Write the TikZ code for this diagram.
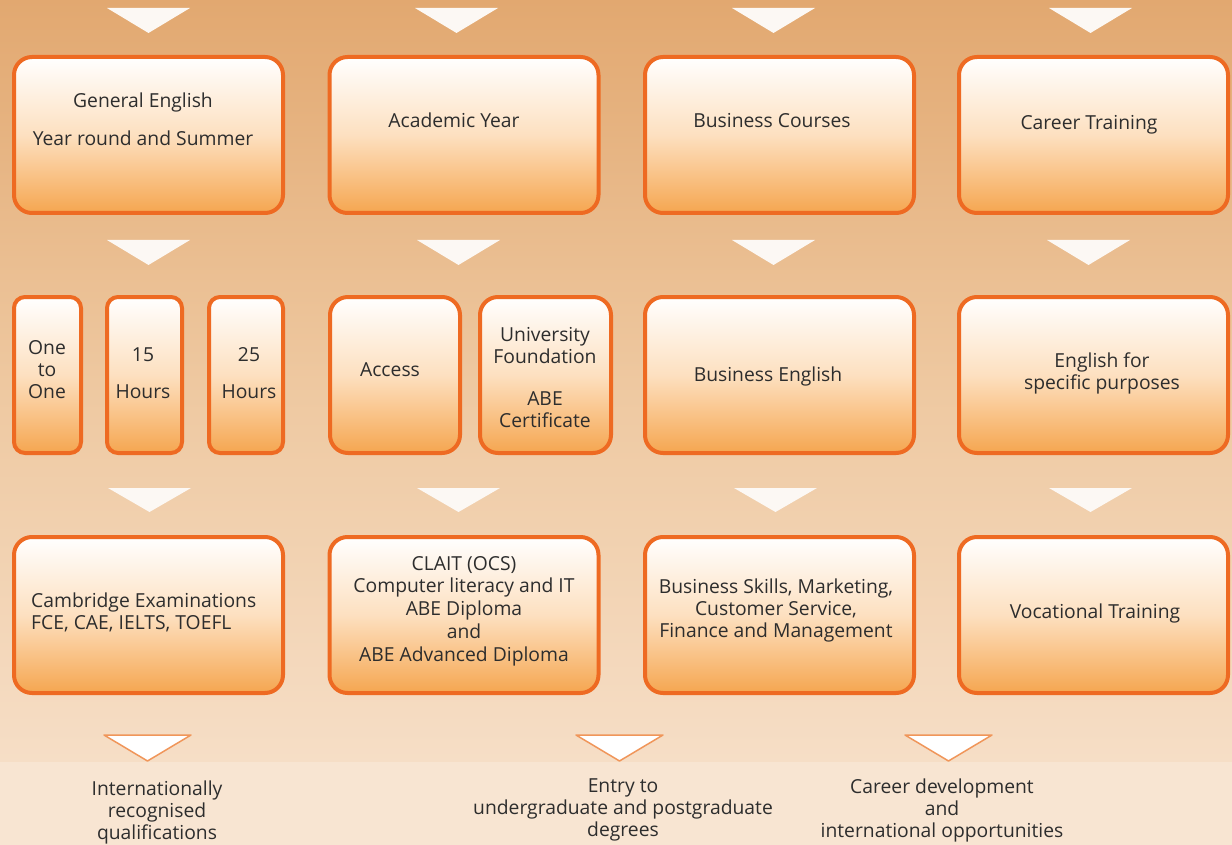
\documentclass[tikz,border=0pt]{standalone}
\usepackage{fontspec}
\setmainfont{Open Sans}
\definecolor{bgtop}{RGB}{226,168,112}
\definecolor{bgmid}{RGB}{238,200,160}
\definecolor{bgbot}{RGB}{246,222,198}
\definecolor{bglow}{RGB}{248,229,210}
\definecolor{boxedge}{RGB}{238,106,34}
\definecolor{boxmid}{RGB}{253,224,192}
\definecolor{boxbot}{RGB}{245,166,80}
\definecolor{inktext}{RGB}{45,45,45}
\definecolor{tripale}{RGB}{252,248,244}
\definecolor{triedge}{RGB}{240,150,90}
\begin{document}
\begin{tikzpicture}[x=1pt,y=-1pt,
  box/.style={draw=boxedge,line width=4pt,rounded corners=18pt,
    top color=white,bottom color=boxbot,middle color=boxmid,inner sep=0pt},
  slimbox/.style={box,rounded corners=11pt,minimum height=156pt},
  bigbox/.style={box,minimum width=269pt,minimum height=156pt},
  txt/.style={text=inktext,font=\fontsize{19.3}{22}\selectfont,align=center,inner sep=0pt},
  tri/.style={fill=tripale,draw=none},
  lowtri/.style={fill=white,draw=triedge,line width=1.5pt,line join=round}]
  % background
  \fill[top color=bgtop,bottom color=bgbot,middle color=bgmid] (0,0) rectangle (1232,762);
  \fill[bglow] (0,762) rectangle (1232,845);
  \useasboundingbox (0,0) rectangle (1232,845);
  % top triangles
  \fill[tri] (107,8) -- (190,8) -- (148.5,33) -- cycle;
  \fill[tri] (415,8) -- (498,8) -- (456.5,33) -- cycle;
  \fill[tri] (732,8) -- (815,8) -- (773.5,33) -- cycle;
  \fill[tri] (1049,8) -- (1132,8) -- (1090.5,33) -- cycle;
  % first row
  \node[bigbox] (genenglish) at (148.5,135) {};
  \node[bigbox] (acadyear) at (464,135) {};
  \node[bigbox] (buscourses) at (779.5,135) {};
  \node[bigbox] (careertrain) at (1093.5,135) {};
  \node[txt] (genenglishtxt) at (143,119) {General English\\[16pt]Year round and Summer};
  \node[txt] (acadyeartxt) at (454,120) {Academic Year};
  \node[txt] (buscoursestxt) at (772,121) {Business Courses};
  \node[txt] (careertraintxt) at (1089,125) {Career Training};
  \fill[tri] (107,240) -- (190,240) -- (148.5,265) -- cycle;
  \fill[tri] (417,240) -- (500,240) -- (458.5,265) -- cycle;
  \fill[tri] (732,240) -- (815,240) -- (773.5,265) -- cycle;
  \fill[tri] (1047,240) -- (1130,240) -- (1088.5,265) -- cycle;
  % second row
  \node[slimbox,minimum width=67pt] (onetoone) at (47.5,375) {};
  \node[slimbox,minimum width=75pt] (fifteen) at (144.5,375) {};
  \node[slimbox,minimum width=74pt] (twentyfive) at (246,375) {};
  \node[box,minimum width=130pt,minimum height=156pt] (access) at (395,375) {};
  \node[box,minimum width=131pt,minimum height=156pt] (unifound) at (545.5,375) {};
  \node[bigbox] (busenglish) at (779.5,375) {};
  \node[bigbox] (specific) at (1093.5,375) {};
  \node[txt] (onetoonetxt) at (47,370) {One\\to\\One};
  \node[txt] (fifteentxt) at (143,373) {15\\[15pt]Hours};
  \node[txt] (twentyfivetxt) at (249,373) {25\\[15pt]Hours};
  \node[txt] (accesstxt) at (390,370) {Access};
  \node[txt] (unifoundtxt) at (545,378) {University\\Foundation\\[20pt]ABE\\Certificate};
  \node[txt] (busenglishtxt) at (768,376) {Business English};
  \node[txt] (specifictxt) at (1102,373) {English for\\specific purposes};
  \fill[tri] (108,488) -- (191,488) -- (149.5,512) -- cycle;
  \fill[tri] (417,488) -- (500,488) -- (458.5,512) -- cycle;
  \fill[tri] (734,488) -- (817,488) -- (775.5,512) -- cycle;
  \fill[tri] (1049,488) -- (1132,488) -- (1090.5,512) -- cycle;
  % third row
  \node[bigbox] (cambridge) at (148.5,615) {};
  \node[bigbox] (clait) at (464,615) {};
  \node[bigbox] (busskills) at (779.5,615) {};
  \node[bigbox] (vocational) at (1093.5,615) {};
  \node[txt,align=left,anchor=west] (cambridgetxt) at (31,612) {Cambridge Examinations\\FCE, CAE, IELTS, TOEFL};
  \node[txt,font=\fontsize{19.3}{22.8}\selectfont] (claittxt) at (464,611)
    {CLAIT (OCS)\\Computer literacy and IT\\ABE Diploma\\and\\ABE Advanced Diploma};
  \node[txt] (busskillstxt) at (776,610) {Business Skills, Marketing,\\Customer Service,\\Finance and Management};
  \node[txt] (vocationaltxt) at (1095,613) {Vocational Training};
  % outcomes
  \draw[lowtri] (104,735) -- (191,735) -- (147.5,761) -- cycle;
  \draw[lowtri] (576,735) -- (663,735) -- (619.5,761) -- cycle;
  \draw[lowtri] (905,735) -- (992,735) -- (948.5,761) -- cycle;
  \node[txt] (qualif) at (157,812) {Internationally\\recognised\\qualifications};
  \node[txt] (degrees) at (623,810) {Entry to\\undergraduate and postgraduate\\degrees};
  \node[txt] (careerdev) at (942,810) {Career development\\and\\international opportunities};
\end{tikzpicture}
\end{document}
